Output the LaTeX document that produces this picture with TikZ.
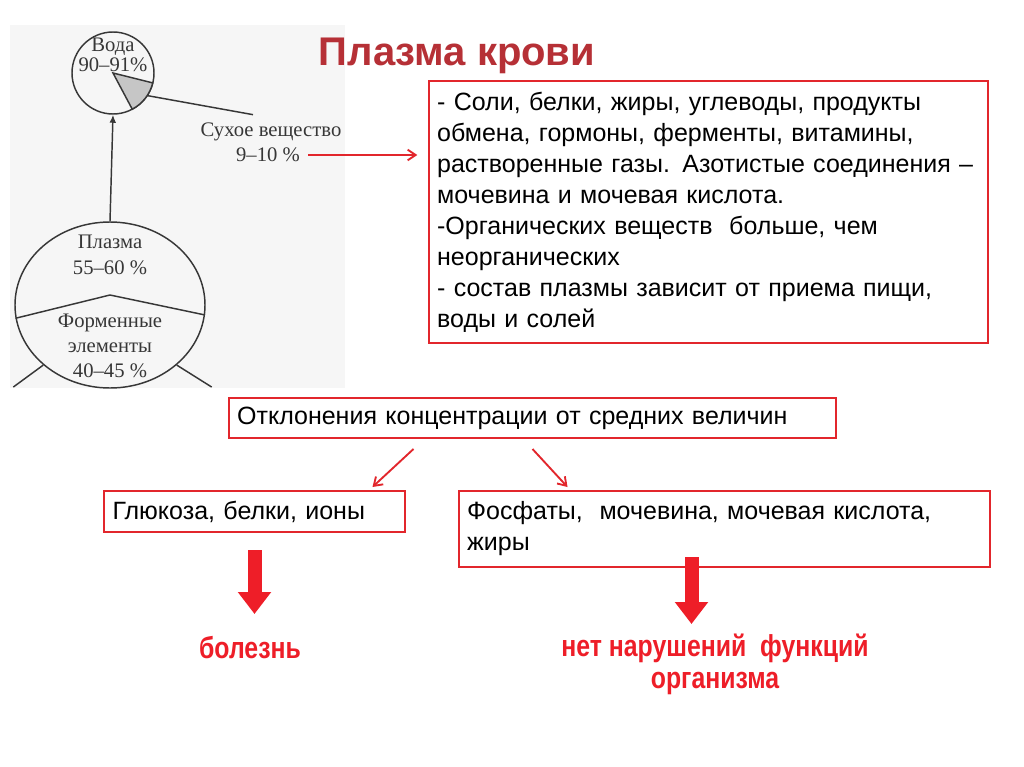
\documentclass[tikz,border=0pt]{standalone}
\usepackage{fontspec}
\setmainfont{Liberation Sans}
\newfontfamily\scanfont{Liberation Serif}
\newfontfamily\narrowbold{Liberation Sans Bold}[FakeStretch=0.82]
\definecolor{boxred}{RGB}{226,38,44}
\definecolor{titlered}{RGB}{182,48,54}
\definecolor{labelred}{RGB}{238,30,40}
\definecolor{scangray}{RGB}{55,55,55}
\definecolor{scanbg}{RGB}{246,246,246}
\usetikzlibrary{arrows.meta,positioning,shapes.geometric,calc}

\begin{document}
\begin{tikzpicture}[x=0.75pt,y=-0.75pt,
  redbox/.style={draw=boxred,line width=1.5pt,anchor=north west,align=left,
    inner xsep=6pt,inner ysep=0pt,font=\fontsize{18.75}{23.25}\selectfont},
  redarr/.style={-{Straight Barb[length=6pt,width=8pt]},line width=1.4pt,boxred},
  blockarr/.style={-{Triangle[length=16.5pt,width=24pt]},line width=10.5pt,labelred},
  scanline/.style={scangray,line width=1.1pt},
  scantxt/.style={scangray,font=\scanfont\fontsize{15.5}{15.5}\selectfont,align=center,inner sep=0pt},
  redlabel/.style={labelred,font=\narrowbold\fontsize{22.7}{24}\selectfont,align=center,inner sep=0pt}
]
  \useasboundingbox (0,0) rectangle (1024,767);
  \fill[white] (0,0) rectangle (1024,767);

  % Scanned scheme: water and dry matter
  \fill[scanbg] (10,25) rectangle (345,388);
  \node[circle,draw=scangray,line width=1.1pt,minimum size=61.5pt,inner sep=0pt] (water) at (113,73) {};
  \filldraw[fill=gray!45,draw=scangray,line width=1.1pt] (water.center) -- +(14:41) arc[start angle=14,end angle=62,radius=41] -- cycle;
  \node[scantxt] (watertxt) at (113,55) {Вода\\[0pt]90–91\%};
  \node[scantxt] (dry) at (271,132) {Сухое вещество};
  \node[scantxt] (drypct) at (268,155) {9–10 \%};
  \draw[scanline] (water.-33) -- ($(dry.north)+(-18,-8)$);

  % Scanned scheme: blood
  \node[ellipse,draw=scangray,line width=1.1pt,minimum width=142.5pt,minimum height=124.5pt,inner sep=0pt] (blood) at (110,305) {};
  \draw[scanline,-{Latex[length=6pt,width=5pt]}] (blood.north) -- (water.south);
  \draw[scanline] (blood.188) -- ($(blood.center)+(0,-10)$) -- (blood.-6);
  \draw[scanline] (blood.222) -- ++(-30,22);
  \draw[scanline] (blood.-42) -- ++(35,22);
  \node[scantxt] (plasma) at (110,255) {Плазма\\[4pt]55–60 \%};
  \node[scantxt] (cells) at (110,346) {Форменные\\[3pt]элементы\\[3pt]40–45 \%};

  % Title
  \node[titlered,font=\bfseries\fontsize{30}{32}\selectfont] (title) at (457,56) {Плазма крови};

  % Composition box
  \node[redbox,minimum width=419.25pt,minimum height=196.5pt,text width=407pt] (salts) at (428,80) {%
    - Соли, белки, жиры, углеводы, продукты\\
    обмена, гормоны, ферменты, витамины,\\
    растворенные газы. Азотистые соединения –\\
    мочевина и мочевая кислота.\\
    -Органических веществ\ \ больше, чем\\
    неорганических\\
    - состав плазмы зависит от приема пищи,\\
    воды и солей};
  \draw[redarr,shorten <=6pt,shorten >=8pt] (drypct.east) -- (drypct.east -| salts.west);

  % Deviations
  \node[redbox,minimum width=455.25pt,minimum height=30pt,text width=443pt] (dev) at (228,397)
    {Отклонения концентрации от средних величин};
  \node[redbox,minimum width=225.75pt,minimum height=30.75pt,text width=213pt] (glucose) at (103,490)
    {Глюкоза, белки, ионы};
  \node[redbox,minimum width=398.25pt,minimum height=57pt,text width=386pt] (phos) at (458,490)
    {Фосфаты,\ \ мочевина, мочевая кислота,\\жиры};
  \draw[redarr] ($(dev.south)+(-119,10)$) -- ($(glucose.north)+(118,-3)$);
  \draw[redarr] ($(dev.south)+(0,10)$) -- ($(phos.north)+(-157,-3)$);

  % Outcomes
  \node[redlabel] (disease) at (250,648) {болезнь};
  \node[redlabel] (fine) at (715,664) {нет нарушений\ \ функций\\организма};
  \draw[blockarr] ($(glucose.south)+(0,17)$) -- ++(0,64);
  \draw[blockarr] ($(phos.south)+(-33,-11)$) -- ++(0,67);
\end{tikzpicture}
\end{document}
